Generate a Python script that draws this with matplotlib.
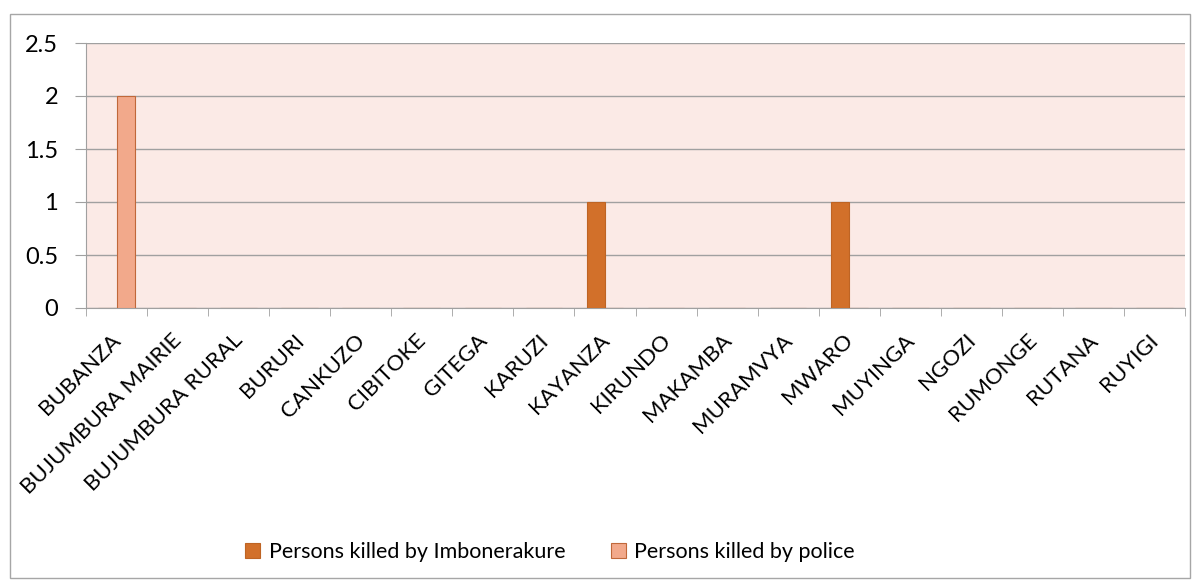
import matplotlib
matplotlib.use('Agg')
from matplotlib import pyplot as plt
from matplotlib.patches import Rectangle
import numpy as np

provinces = ['BUBANZA', 'BUJUMBURA MAIRIE', 'BUJUMBURA RURAL', 'BURURI', 'CANKUZO',
             'CIBITOKE', 'GITEGA', 'KARUZI', 'KAYANZA', 'KIRUNDO', 'MAKAMBA',
             'MURAMVYA', 'MWARO', 'MUYINGA', 'NGOZI', 'RUMONGE', 'RUTANA', 'RUYIGI']
killedByImbonerakure = [0, 0, 0, 0, 0, 0, 0, 0, 1, 0, 0, 0, 1, 0, 0, 0, 0, 0]
killedByPolice = [2, 0, 0, 0, 0, 0, 0, 0, 0, 0, 0, 0, 0, 0, 0, 0, 0, 0]
yTicks = [0, 0.5, 1, 1.5, 2, 2.5]

plt.rcParams['font.family'] = ['Lato', 'DejaVu Sans']

figure = plt.figure(figsize=(12, 5.82), dpi=100)
axes = figure.add_axes([86 / 1200, 1 - 308 / 582, (1185 - 86) / 1200, (308 - 43) / 582])

# outer chart border
figure.patches.append(Rectangle((10 / 1200, 4 / 582), 1180 / 1200, 564 / 582,
                                transform=figure.transFigure, fill=False,
                                edgecolor='#A6A6A6', linewidth=1.0))

x = np.arange(len(provinces))
width = 0.3
axes.set_facecolor('#FBEAE6')
axes.bar(x - width / 2, killedByImbonerakure, width, color='#D2702A',
         edgecolor='#BE6424', linewidth=0.8, label='Persons killed by Imbonerakure', zorder=3)
axes.bar(x + width / 2, killedByPolice, width, color='#F2A98B',
         edgecolor='#C0683A', linewidth=0.8, label='Persons killed by police', zorder=3)

axes.set_xlim(-0.5, len(provinces) - 0.5)
axes.set_ylim(0, 2.5)
axes.set_yticks(yTicks)
axes.set_yticklabels(['0', '0.5', '1', '1.5', '2', '2.5'], fontsize=17)
axes.yaxis.grid(True, color='#A0A0A0', linewidth=1.0, zorder=1)
axes.tick_params(axis='y', length=8, color='#A0A0A0', pad=12)

# major ticks are hidden, so nudge them left a little to place the rotated labels
axes.set_xticks(x - 0.1)
axes.set_xticklabels(provinces, rotation=45, ha='right', rotation_mode='anchor', fontsize=16)
axes.set_xticks(np.arange(len(provinces) + 1) - 0.5, minor=True)
axes.tick_params(axis='x', which='major', length=0, pad=16)
axes.tick_params(axis='x', which='minor', length=6, color='#A0A0A0')

for side in ['top', 'right']:
    axes.spines[side].set_visible(False)
axes.spines['left'].set_color('#A0A0A0')
axes.spines['bottom'].set_color('#A0A0A0')
axes.set_axisbelow(True)

figure.legend(loc='center', bbox_to_anchor=(550 / 1200, 1 - 552 / 582), ncol=2,
              frameon=False, fontsize=15.5, handlelength=0.7, handleheight=0.7,
              columnspacing=2.1, handletextpad=0.4)

figure.savefig('out.png', dpi=100)
